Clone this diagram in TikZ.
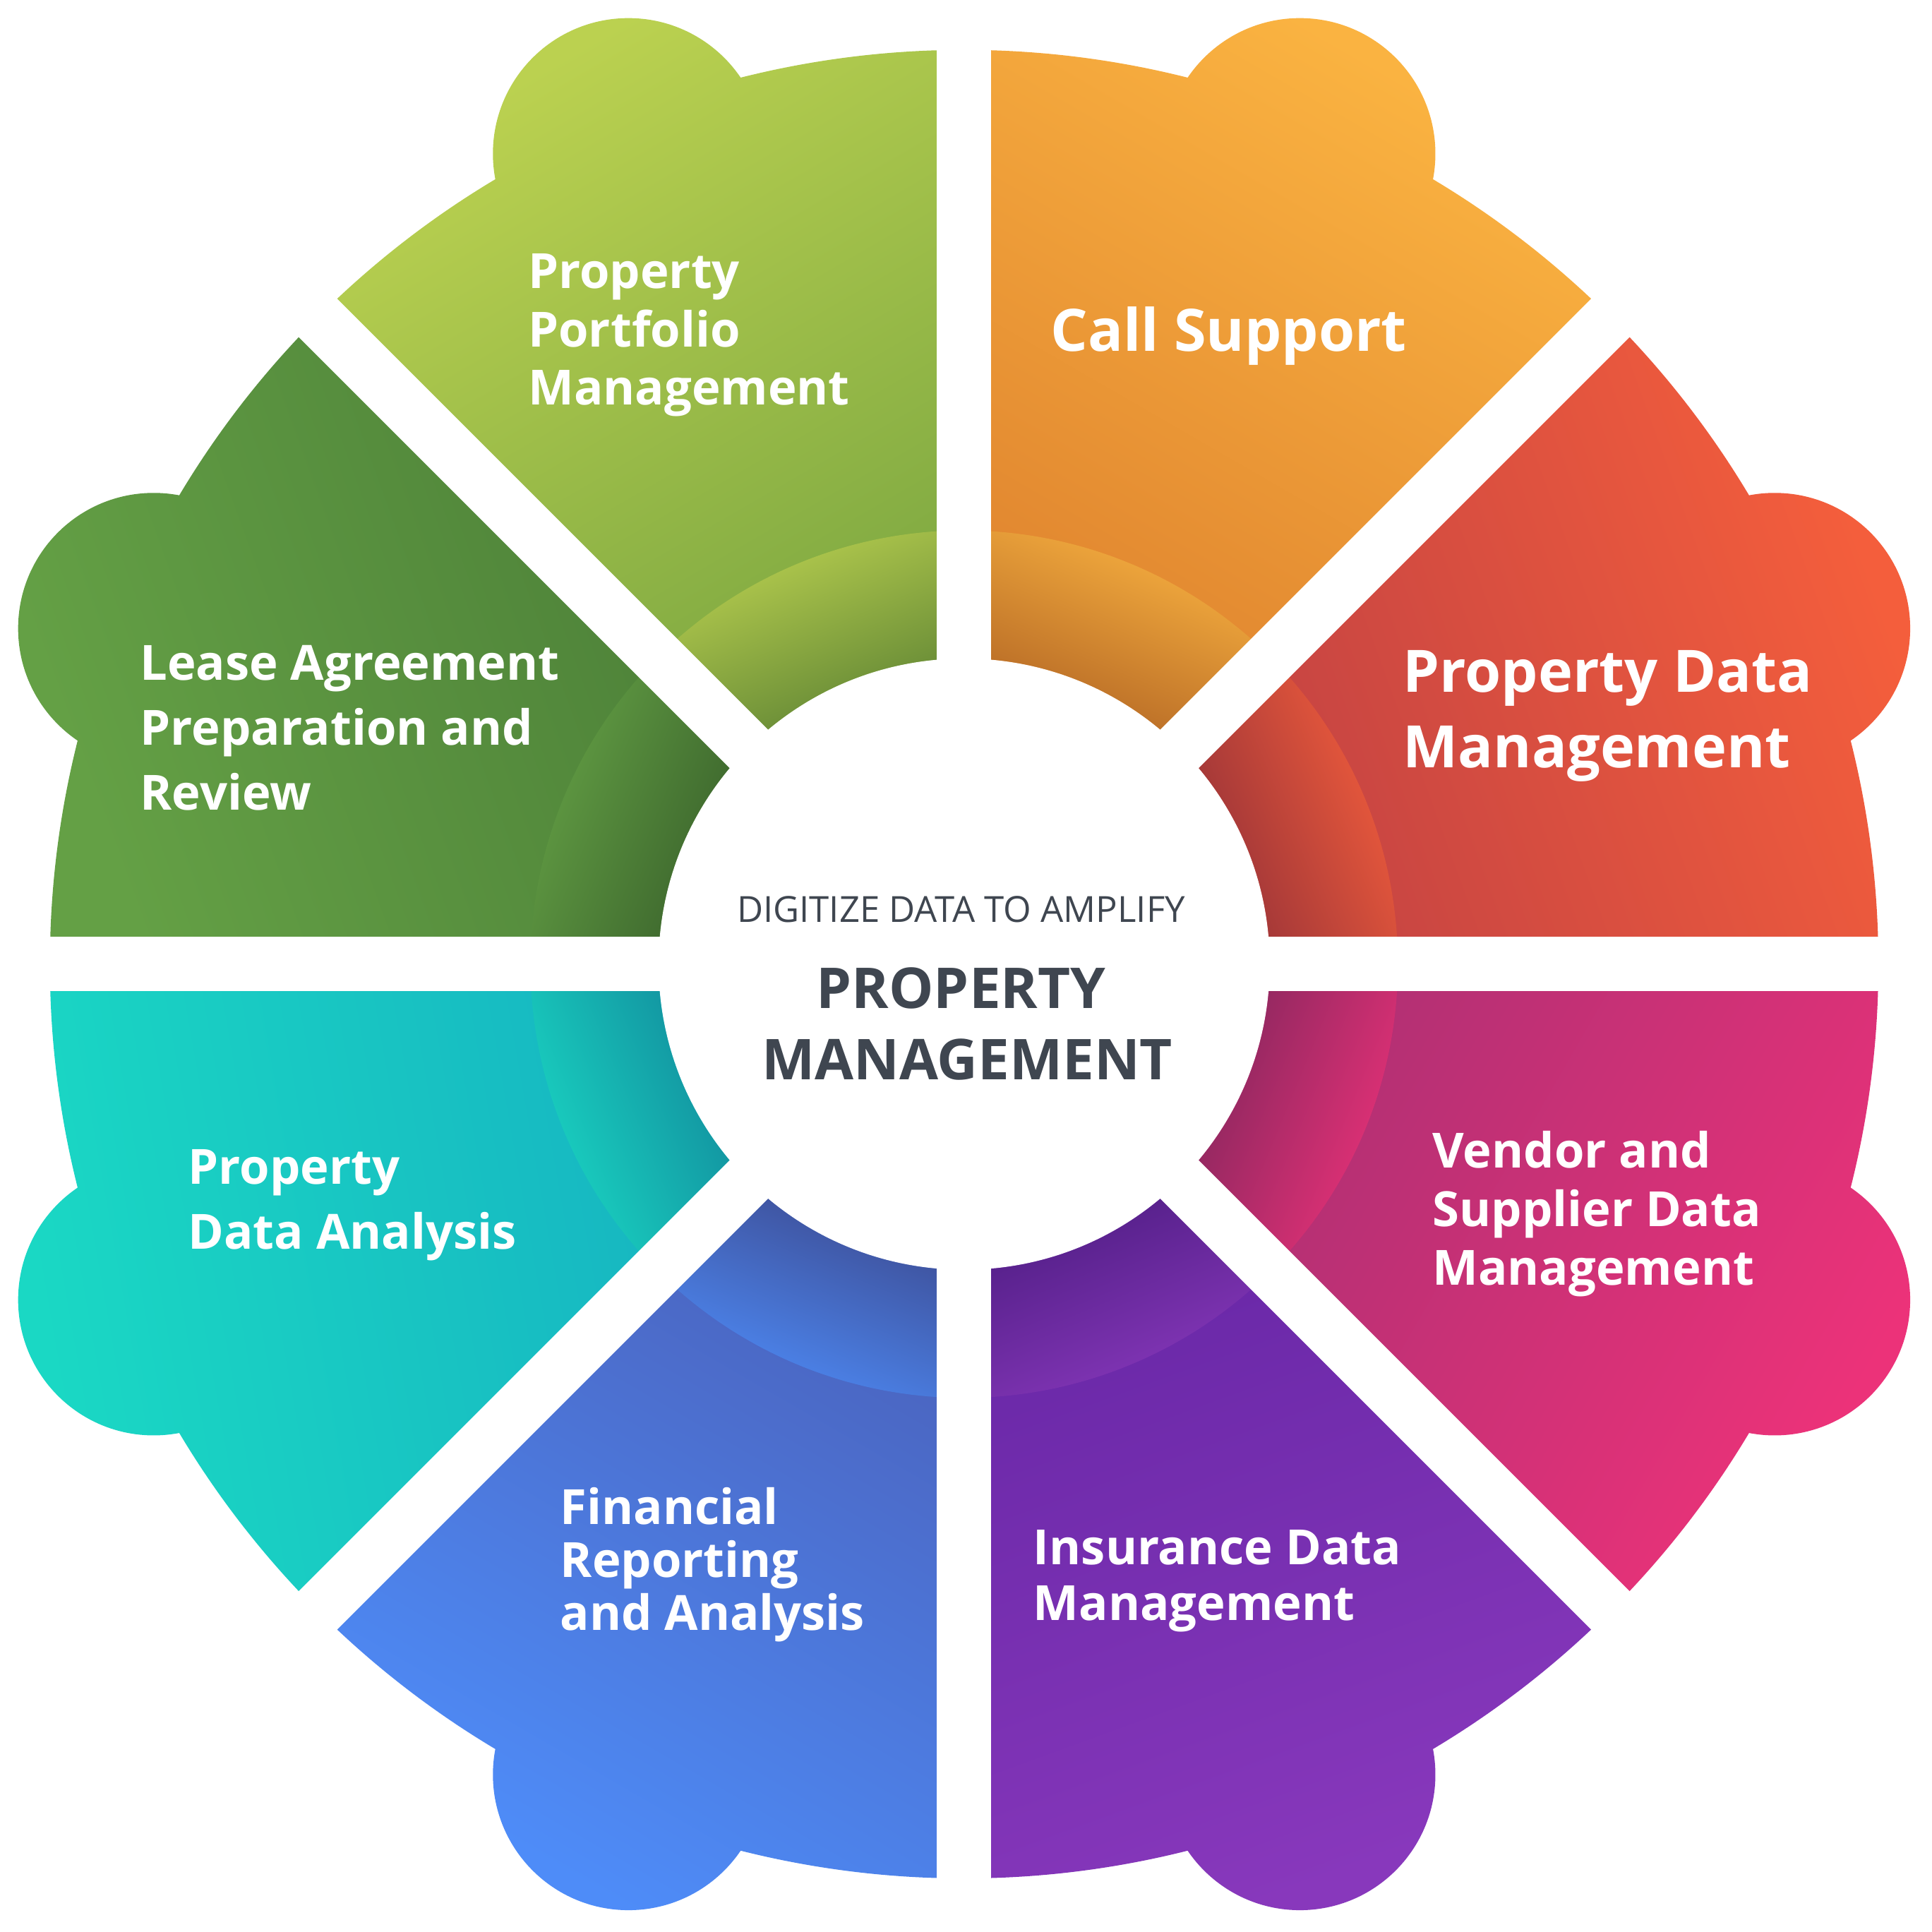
\documentclass[tikz,border=0pt]{standalone}
\usepackage{fontspec}
\setmainfont{Open Sans}
\usetikzlibrary{positioning}
\definecolor{ppmA}{HTML}{BBD150}\definecolor{ppmB}{HTML}{6E9E3E}
\definecolor{calA}{HTML}{FAB341}\definecolor{calB}{HTML}{D9782A}
\definecolor{pdmA}{HTML}{F45E3C}\definecolor{pdmB}{HTML}{B43A45}
\definecolor{venA}{HTML}{EC3279}\definecolor{venB}{HTML}{9E2F72}
\definecolor{insA}{HTML}{8838BC}\definecolor{insB}{HTML}{5E22A0}
\definecolor{finA}{HTML}{4E8CF8}\definecolor{finB}{HTML}{4A58AE}
\definecolor{pdaA}{HTML}{1AD8C4}\definecolor{pdaB}{HTML}{15A8C0}
\definecolor{leaA}{HTML}{64A045}\definecolor{leaB}{HTML}{457634}
\definecolor{midgray}{HTML}{3F4650}
\tikzset{
  seglabel/.style={anchor=west, align=left, inner sep=0pt, text=white, font=\bfseries\fontsize{11.2}{13.5}\selectfont},
  biglabel/.style={seglabel, font=\bfseries\fontsize{13.5}{17.5}\selectfont},
  gapline/.style={white, line width=0.44cm}
}
\begin{document}
\begin{tikzpicture}
\useasboundingbox (-7.825,-7.855) rectangle (7.855,7.825);

% Segments
\foreach \a/\ca/\cb/\sa in {90/ppmA/ppmB/30, 45/calA/calB/-30, 0/pdmA/pdmB/-70, -45/venA/venB/-120,
  -90/insA/insB/-160, -135/finA/finB/150, 180/pdaA/pdaB/100, 135/leaA/leaB/110}{
  \pgfmathsetmacro{\m}{\a+22.5}
  \pgfmathsetmacro{\e}{\a+45}
  \shade[top color=\ca, bottom color=\cb, shading angle=\sa]
    (0,0) -- (\a:7.42) arc[start angle=\a, end angle=\e, radius=7.42] -- cycle
    (\m:7.12) circle[radius=1.1];
  \shade[top color=\ca, bottom color=\cb!80!black, shading angle=\m-90]
    (\a:2.48) -- (\a:3.52) arc[start angle=\a, end angle=\e, radius=3.52]
    -- (\e:2.48) arc[start angle=\e, end angle=\a, radius=2.48] -- cycle;
}

% Gaps
\draw[gapline] (-9,0) -- (9,0);
\draw[gapline] (0,-9) -- (0,9);
\draw[gapline] (-7,-7) -- (7,7);
\draw[gapline] (-7,7) -- (7,-7);
\fill[white] (0,0) circle[radius=2.48];

% Nodes
\node (ppm) [seglabel] at (-3.545,5.105) {Property\\Portfolio\\Management};
\node (call) [biglabel] at (0.695,5.1) {Call Support};
\node (pdm) [biglabel] at (3.555,2.015) {Property Data\\Management};
\node (lease) [seglabel, font=\bfseries\fontsize{11.2}{15}\selectfont] at (-6.695,1.915) {Lease Agreement\\Preparation and\\Review};
\node (pda) [seglabel, font=\bfseries\fontsize{11.2}{15}\selectfont] at (-6.305,-1.955) {Property\\Data Analysis};
\node (vendor) [seglabel] at (3.795,-2.025) {Vendor and\\Supplier Data\\Management};
\node (fin) [seglabel, font=\bfseries\fontsize{11.2}{12.2}\selectfont] at (-3.285,-4.875) {Financial\\Reporting\\and Analysis};
\node (ins) [seglabel, font=\bfseries\fontsize{11.2}{12.8}\selectfont] at (0.555,-5.005) {Insurance Data\\Management};
\node (digit) [text=midgray, font=\fontsize{8.3}{10}\selectfont] at (-0.025,0.445) {DIGITIZE DATA TO AMPLIFY};
\node (prop) [text=midgray, font=\bfseries\fontsize{13}{16}\selectfont] at (-0.025,-0.195) {PROPERTY};
\node (mgmt) [text=midgray, font=\bfseries\fontsize{13}{16}\selectfont] at (0.025,-0.775) {MANAGEMENT};
\end{tikzpicture}
\end{document}
